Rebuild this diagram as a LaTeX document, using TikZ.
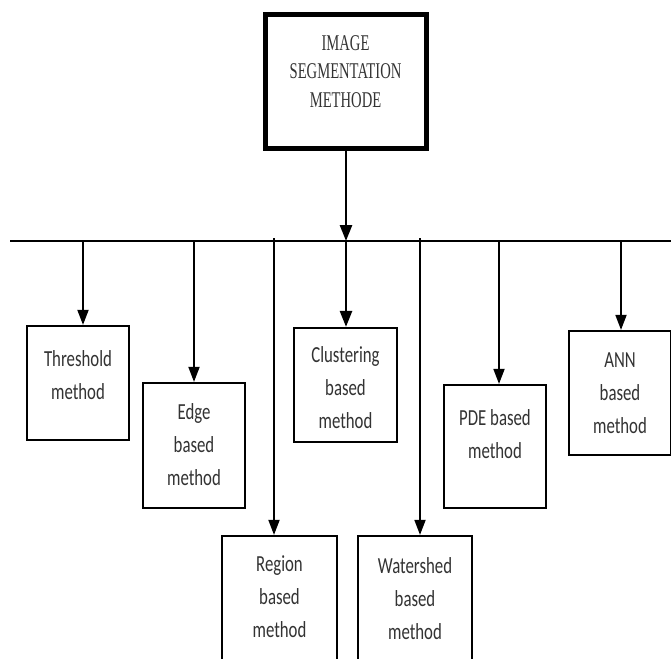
\documentclass[tikz,border=0pt]{standalone}
\usepackage{fontspec}
\usetikzlibrary{arrows.meta}
\newfontfamily\calib[FakeStretch=0.73]{Carlito}
\newfontfamily\timesc[FakeStretch=0.65]{Liberation Serif}
\begin{document}
\begin{tikzpicture}[x=1pt,y=-1pt,
  box/.style={draw,line width=2.2pt,inner sep=0pt,fill=white},
  topbox/.style={draw,line width=5pt,inner sep=0pt},
  lbl/.style={font=\calib\fontsize{23}{33}\selectfont,align=center,inner sep=0pt,text=black!80},
  toplbl/.style={font=\timesc\fontsize{22.5}{28.5}\selectfont,align=center,inner sep=0pt,text=black!80},
  arr/.style={line width=1.8pt,-{Triangle[width=11pt,length=15pt]}},
  thickarr/.style={line width=2.6pt,-{Triangle[width=12pt,length=16pt]}},
  plain/.style={line width=1.8pt},
  bus/.style={line width=2.6pt}]
\useasboundingbox (0,0) rectangle (671,658);
\clip (0,0) rectangle (671,658);

% top box
\node[topbox,minimum width=161pt,minimum height=133pt] (top) at (345.5,81.5) {};
\node[toplbl] (toptxt) at (345.5,71.5) {IMAGE\\SEGMENTATION\\METHODE};

% bus line
\coordinate (hL) at (10,241);
\coordinate (hR) at (671,241);
\coordinate (hC) at (346,241);
\draw[bus] (hL) -- (hR);
\draw[thickarr] (top.south -| hC) -- (hC);

% boxes
\node[box,minimum width=102pt,minimum height=114pt] (thr) at (78,383) {};
\node[lbl] at (78,375) {Threshold\\method};

\node[box,minimum width=102pt,minimum height=125pt] (edge) at (194,445.5) {};
\node[lbl] at (194,445) {Edge\\based\\method};

\node[box,minimum width=103pt,minimum height=114pt] (clu) at (345.5,385) {};
\node[lbl] at (345.5,388) {Clustering\\based\\method};

\node[box,minimum width=102pt,minimum height=123pt] (pde) at (495,446.5) {};
\node[lbl] at (495,434) {PDE based\\method};

\node[box,minimum width=102pt,minimum height=124pt] (ann) at (620,393) {};
\node[lbl] at (620,393) {ANN\\based\\method};

\node[box,minimum width=115pt,minimum height=150pt] (reg) at (279.5,611) {};
\node[lbl] at (279.5,597) {Region\\based\\method};

\node[box,minimum width=114pt,minimum height=150pt] (wat) at (415,611) {};
\node[lbl] at (415,599) {Watershed\\based\\method};

% branch coordinates on the bus
\coordinate (bthr) at (83,241);
\coordinate (bedge) at (194,241);
\coordinate (breg) at (274,238);
\coordinate (bclu) at (346,241);
\coordinate (bwat) at (420,238);
\coordinate (bpde) at (499,241);
\coordinate (bann) at (621,241);

\draw[arr] (bthr) -- (bthr |- thr.north);
\draw[arr] (bedge) -- (bedge |- edge.north);
\draw[arr] (breg) -- (breg |- reg.north);
\draw[thickarr] (bclu) -- (bclu |- clu.north);
\draw[arr] (bwat) -- (bwat |- wat.north);
\draw[arr] (bpde) -- (bpde |- pde.north);
\draw[arr] (bann) -- (bann |- ann.north);
\end{tikzpicture}
\end{document}
